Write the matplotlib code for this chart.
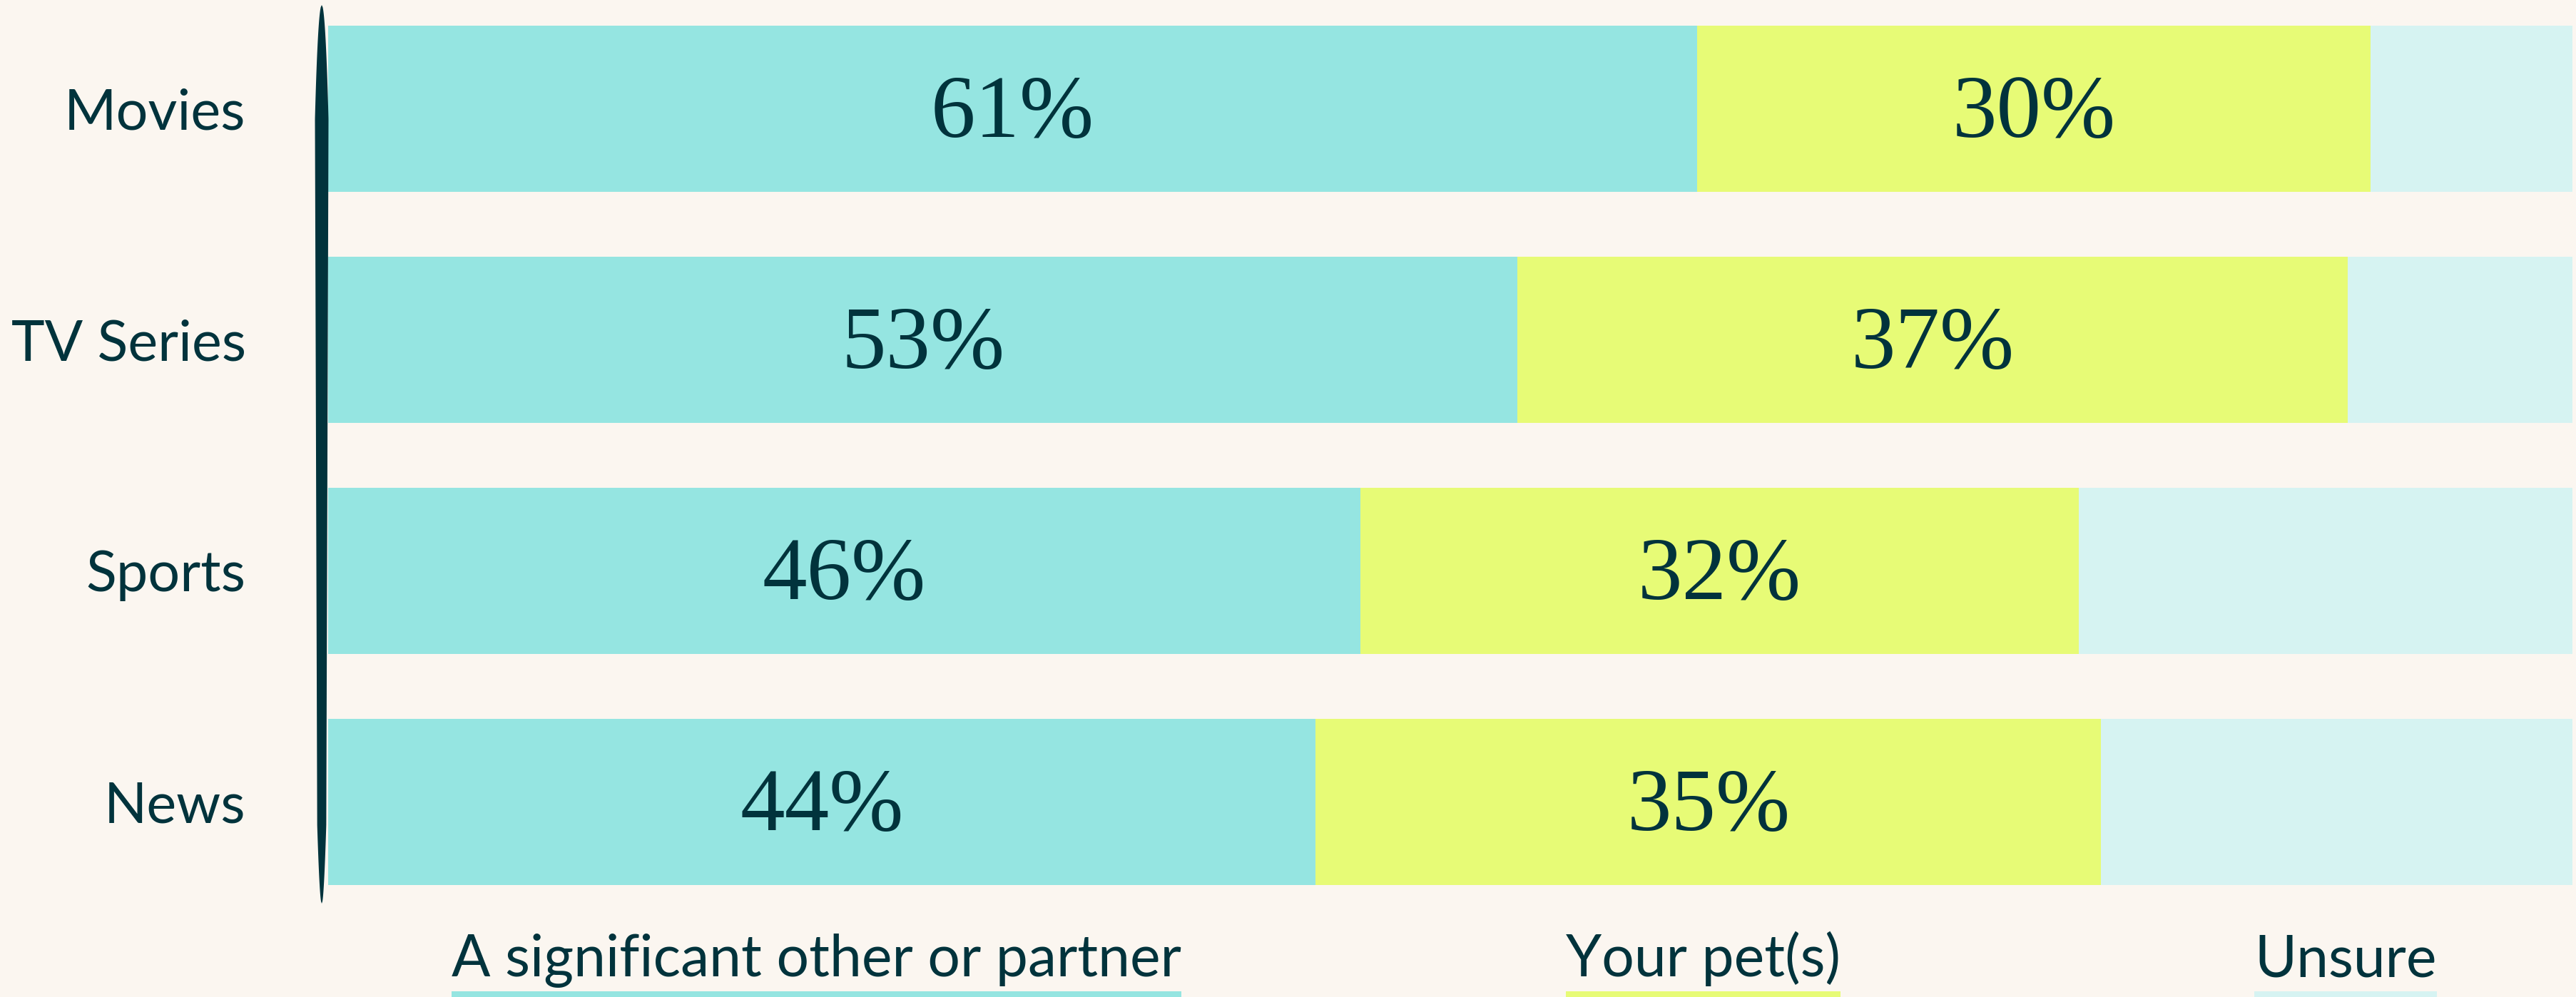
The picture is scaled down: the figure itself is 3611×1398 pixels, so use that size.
import numpy as np
import matplotlib.pyplot as plt
from matplotlib.patches import Rectangle, Polygon

# data
categories = ["Movies", "TV Series", "Sports", "News"]
partner = [61, 53, 46, 44]
pet = [30, 37, 32, 35]
unsure = [9, 10, 22, 21]
legend_labels = ["A significant other or partner", "Your pet(s)", "Unsure"]
legend_x = [633, 2195, 3160]

BG = "#FBF6F0"
DARK = "#01333C"
CYAN = "#95E5E1"
LIME = "#E7FB76"
PALE = "#D6F3F2"
colors = [CYAN, LIME, PALE]

W, H = 3611, 1398
fig = plt.figure(figsize=(W / 100, H / 100), dpi=100, facecolor=BG)

ax = fig.add_axes([460 / W, 1 - 1241 / H, (3606 - 460) / W, (1241 - 36) / H])
ax.set_facecolor(BG)
y = np.arange(len(categories))
ax.barh(y, partner, height=0.719, color=CYAN)
ax.barh(y, pet, left=partner, height=0.719, color=LIME)
ax.barh(y, unsure, left=np.add(partner, pet), height=0.719, color=PALE)
ax.set_xlim(0, 100)
ax.set_ylim(3.36, -0.36)

for i in range(len(categories)):
    ax.text(partner[i] / 2, i + 0.03, f"{partner[i]}%", ha="center", va="center",
            fontfamily="Liberation Serif", fontsize=90, color=DARK)
    ax.text(partner[i] + pet[i] / 2, i + 0.03, f"{pet[i]}%", ha="center", va="center",
            fontfamily="Liberation Serif", fontsize=90, color=DARK)

ax.set_yticks(y, categories)
ax.set_xticks([])
ax.tick_params(axis="y", length=0, pad=83, labelsize=57, labelcolor=DARK)
for lab in ax.get_yticklabels():
    lab.set_fontfamily("Lato")
for s in ax.spines.values():
    s.set_visible(False)

# overlay in pixel coords for the brush-like axis line and legend underlines
ov = fig.add_axes([0, 0, 1, 1])
ov.set_xlim(0, W)
ov.set_ylim(H, 0)
ov.axis("off")
ov.patch.set_alpha(0)

ys = np.linspace(7, 1267, 400)
half = np.interp(ys, [7, 1267], [10, 6])
taper = np.sqrt(np.clip(np.minimum((ys - 7) / 160, (1267 - ys) / 110), 0, 1))
hw = half * taper
cx = 451
pts = np.concatenate([np.column_stack([cx - hw, ys]), np.column_stack([cx + hw, ys])[::-1]])
ov.add_patch(Polygon(pts, closed=True, color=DARK, lw=0))

texts = []
for lbl, x in zip(legend_labels, legend_x):
    texts.append(fig.text(x / W, 1 - 1369 / H, lbl, ha="left", va="baseline",
                          fontfamily="Lato", fontsize=58, color=DARK))
fig.canvas.draw()
for t, c in zip(texts, colors):
    bb = t.get_window_extent()
    ov.add_patch(Rectangle((bb.x0, 1390), bb.width, 10, color=c, lw=0))

fig.savefig("out.png", dpi=100, facecolor=BG)
